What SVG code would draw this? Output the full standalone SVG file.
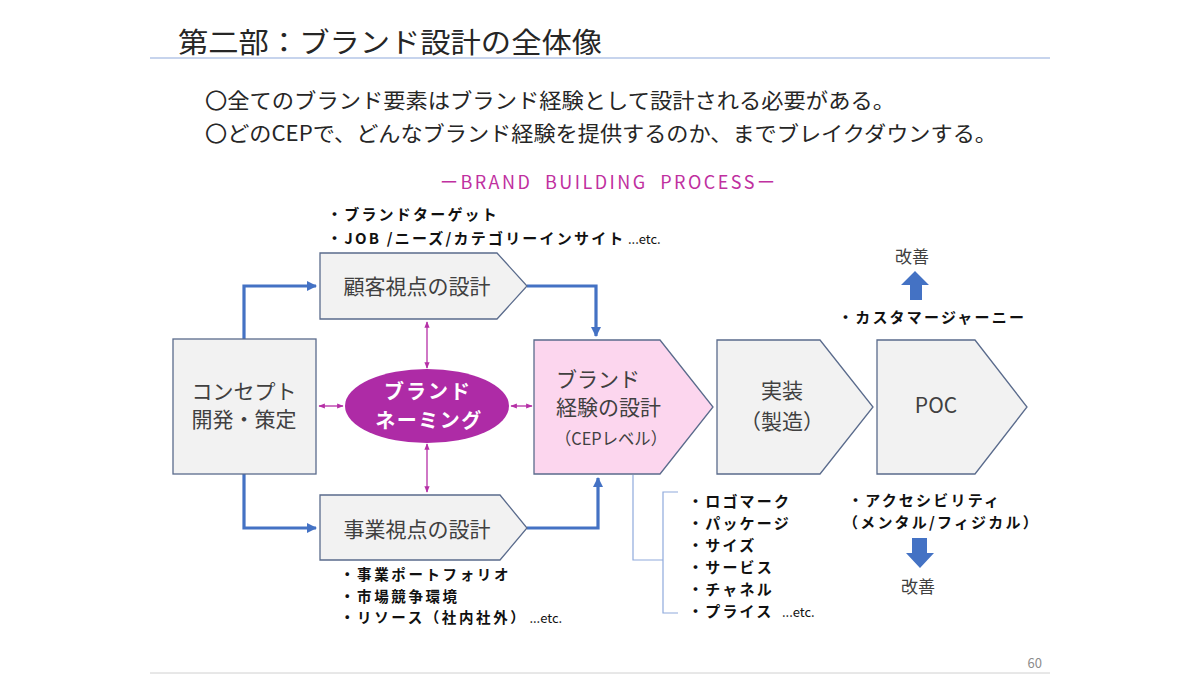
<svg xmlns="http://www.w3.org/2000/svg" width="1200" height="675" viewBox="0 0 1200 675">
<defs>
<style>
text{font-family:"Noto Sans CJK JP","Noto Sans",sans-serif}
.box{fill:#f2f2f2;stroke:#5a6b8c;stroke-width:1.3}
.pink{fill:#fcd6ee;stroke:#5a6b8c;stroke-width:1.3}
.lbl{font-size:21px;fill:#404040;text-anchor:middle}
.bul{font-size:15px;font-weight:bold;fill:#111;letter-spacing:2.2px}
.bs{font-size:14.5px;font-weight:bold;fill:#111;letter-spacing:2.6px}
.etc{font-size:13px;fill:#111}
.blue{fill:none;stroke:#4472c4;stroke-width:3.2;marker-end:url(#ab)}
.mag{fill:none;stroke:#b52fa6;stroke-width:1.3;marker-end:url(#am);marker-start:url(#ams)}
.brk{fill:none;stroke:#8faadc;stroke-width:1.2}
</style>
<marker id="ab" viewBox="0 0 10 10" refX="9" refY="5" markerWidth="3.2" markerHeight="3.2" orient="auto" markerUnits="strokeWidth"><path d="M0,0 L10,5 L0,10 z" fill="#4472c4"/></marker>
<marker id="am" viewBox="0 0 10 10" refX="9" refY="5" markerWidth="5" markerHeight="5" orient="auto" markerUnits="strokeWidth"><path d="M0,1 L10,5 L0,9 z" fill="#b52fa6"/></marker>
<marker id="ams" viewBox="0 0 10 10" refX="1" refY="5" markerWidth="5" markerHeight="5" orient="auto" markerUnits="strokeWidth"><path d="M10,1 L0,5 L10,9 z" fill="#b52fa6"/></marker>
</defs>
<rect width="1200" height="675" fill="#ffffff"/>

<g id="header">
<text x="178" y="53" font-size="28" fill="#262626" textLength="424" lengthAdjust="spacingAndGlyphs">第二部：ブランド設計の全体像</text>
<line x1="150" y1="58" x2="1050" y2="58" stroke="#8faadc" stroke-width="1.2"/>
<text x="205" y="108" font-size="21" fill="#262626" textLength="690" lengthAdjust="spacingAndGlyphs">〇全てのブランド要素はブランド経験として設計される必要がある。</text>
<text x="205" y="141" font-size="21" fill="#262626" textLength="792" lengthAdjust="spacingAndGlyphs">〇どのCEPで、どんなブランド経験を提供するのか、までブレイクダウンする。</text>
<text x="440" y="189" font-size="18" fill="#c0309f" textLength="335" lengthAdjust="spacing" word-spacing="6">ーBRAND BUILDING PROCESSー</text>
</g>

<g id="connectors">
<path class="blue" d="M244,339 V286 H316"/>
<path class="blue" d="M527,286 H596 V336"/>
<path class="blue" d="M244,474 V528 H316"/>
<path class="blue" d="M527,528 H598 V478"/>
<path class="mag" d="M427,322 V368"/>
<path class="mag" d="M427,444 V492"/>
<path class="mag" d="M319,406 H343"/>
<path class="mag" d="M511,406 H532"/>
<path class="brk" d="M633,475 V560 H663"/>
<path class="brk" d="M678,492 H663 V613 H678"/>
</g>

<g id="concept">
<rect class="box" x="173" y="339" width="143" height="135"/>
<text class="lbl" x="244" y="399">コンセプト</text>
<text class="lbl" x="244" y="427">開発・策定</text>
</g>

<g id="customer">
<polygon class="box" points="320,253 497,253 527,286 497,319 320,319"/>
<text class="lbl" x="417" y="294">顧客視点の設計</text>
</g>

<g id="business">
<polygon class="box" points="320,495 500,495 527,528 500,560 320,560"/>
<text class="lbl" x="417" y="537">事業視点の設計</text>
</g>

<g id="naming">
<ellipse cx="427" cy="406" rx="82" ry="37" fill="#ae2ba6"/>
<text x="428" y="399" font-size="20" font-weight="bold" fill="#ffffff" text-anchor="middle" letter-spacing="2">ブランド</text>
<text x="429" y="428" font-size="20" font-weight="bold" fill="#ffffff" text-anchor="middle" letter-spacing="1.5">ネーミング</text>
</g>

<g id="experience">
<polygon class="pink" points="534,340 660,340 713,407 660,474 534,474"/>
<text x="556" y="387" font-size="21" fill="#404040">ブランド</text>
<text x="556" y="415" font-size="21" fill="#404040">経験の設計</text>
<text x="555" y="445" font-size="17" fill="#404040" textLength="112" lengthAdjust="spacingAndGlyphs">（CEPレベル）</text>
</g>

<g id="implement">
<polygon class="box" points="717,340 820,340 873,407 820,474 717,474"/>
<text class="lbl" x="782" y="398">実装</text>
<text class="lbl" x="782" y="429">（製造）</text>
</g>

<g id="poc">
<polygon class="box" points="877,340 975,340 1027,407 975,474 877,474"/>
<text class="lbl" x="936" y="413" font-size="22">POC</text>
</g>

<g id="notes-top">
<text class="bul" x="327" y="220">・ブランドターゲット</text>
<text class="bul" x="327" y="244" letter-spacing="1.6">・JOB /ニーズ/カテゴリーインサイト</text>
<text class="etc" x="628" y="244">...etc.</text>
</g>

<g id="notes-bottom">
<text class="bs" x="340" y="580">・事業ポートフォリオ</text>
<text class="bs" x="340" y="601.5">・市場競争環境</text>
<text class="bs" x="340" y="623" letter-spacing="0.5">・リソース（社内社外）<tspan font-size="13" font-weight="normal" letter-spacing="0" dx="2">...etc.</tspan></text>
</g>

<g id="notes-experience">
<text class="bul" x="688" y="507">・ロゴマーク</text>
<text class="bul" x="688" y="529">・パッケージ</text>
<text class="bul" x="688" y="551">・サイズ</text>
<text class="bul" x="688" y="573">・サービス</text>
<text class="bul" x="688" y="595">・チャネル</text>
<text class="bul" x="688" y="617">・プライス</text>
<text class="etc" x="782" y="617">...etc.</text>
</g>

<g id="improve-up">
<text x="912" y="263" font-size="17" fill="#404040" text-anchor="middle">改善</text>
<polygon points="915,271 929,285 922,285 922,300 910,300 910,285 901,285" fill="#4472c4"/>
<text class="bul" x="838" y="323">・カスタマージャーニー</text>
</g>

<g id="improve-down">
<text class="bul" x="848" y="506">・アクセシビリティ</text>
<text class="bul" x="843" y="528" letter-spacing="1.4">（メンタル/フィジカル）</text>
<polygon points="912,538 927,538 927,553 934,553 920,568 906,553 912,553" fill="#4472c4"/>
<text x="918" y="593" font-size="17" fill="#404040" text-anchor="middle">改善</text>
</g>

<g id="footer">
<text x="1042" y="668" font-size="13" fill="#8c8c8c" text-anchor="end">60</text>
<line x1="150" y1="673" x2="1050" y2="673" stroke="#d0d0d0" stroke-width="1"/>
</g>
</svg>
